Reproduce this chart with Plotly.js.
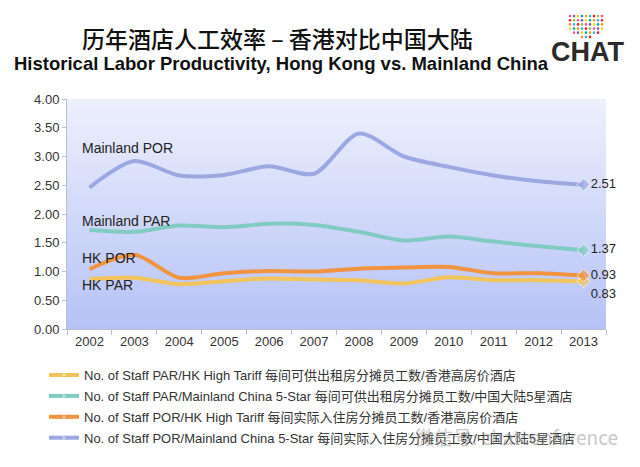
<!DOCTYPE html>
<html>
<head>
<meta charset="utf-8">
<script src="https://cdn.plot.ly/plotly-3.0.1.min.js"></script>
<style>
html,body{margin:0;padding:0;background:#fff;}
#chart{width:640px;height:467px;}
</style>
</head>
<body>
<div id="chart"></div>
<script>
var years = ['2002','2003','2004','2005','2006','2007','2008','2009','2010','2011','2012','2013'];
var hkPar = [0.87,0.89,0.78,0.83,0.88,0.86,0.85,0.79,0.90,0.85,0.85,0.83];
var mainlandPar = [1.72,1.69,1.80,1.77,1.83,1.81,1.69,1.54,1.61,1.52,1.44,1.37];
var hkPor = [1.04,1.29,0.89,0.97,1.01,1.00,1.05,1.07,1.08,0.97,0.97,0.93];
var mainlandPor = [2.46,2.92,2.67,2.68,2.83,2.70,3.40,3.00,2.82,2.67,2.57,2.51];
var yTicks = [0,0.5,1,1.5,2,2.5,3,3.5,4];

var names = [
  'No. of Staff PAR/HK High Tariff 每间可供出租房分摊员工数/香港高房价酒店',
  'No. of Staff PAR/Mainland China 5-Star 每间可供出租房分摊员工数/中国大陆5星酒店',
  'No. of Staff POR/HK High Tariff 每间实际入住房分摊员工数/香港高房价酒店',
  'No. of Staff POR/Mainland China 5-Star 每间实际入住房分摊员工数/中国大陆5星酒店'
];
var colors = ['#f3c45c','#80cbc2','#f29340','#9ba8e2'];
var series = [hkPar, mainlandPar, hkPor, mainlandPor];
var textPos = ['bottom right','middle right','middle right','middle right'];

var FONT = 'Liberation Sans, Arial, Noto Sans CJK SC, sans-serif';
var traces = series.map(function(vals, k){
  var last = vals.length - 1;
  return {
    x: years, y: vals, name: names[k], type: 'scatter',
    mode: 'lines+markers+text',
    legendgroup: 'g' + k,
    line: {color: colors[k], width: 4, shape: 'spline', smoothing: 0.8},
    marker: {symbol: 'diamond', color: colors[k], size: vals.map(function(v,i){return i===last?10:0;})},
    text: vals.map(function(v,i){return i===last ? v.toFixed(2) : '';}),
    textposition: textPos[k],
    textfont: {family: FONT, size: 13, color: '#222'},
    cliponaxis: false,
    hoverinfo: 'x+y'
  };
});

var grad = 'data:image/svg+xml;utf8,' + encodeURIComponent(
  '<svg xmlns="http://www.w3.org/2000/svg" width="100" height="100" preserveAspectRatio="none">' +
  '<defs><linearGradient id="g" x1="0" y1="0" x2="0" y2="1">' +
  '<stop offset="0" stop-color="#eef0fc"/><stop offset="1" stop-color="#b5c2f6"/></linearGradient></defs>' +
  '<rect width="100" height="100" fill="url(#g)"/></svg>');

var dotColors = ['#f15a9a','#27b6e6','#f6d21e','#8dc63f','#f7941d','#7b5ea7','#ed1c24','#00a99d'];
var dots = '';
var n = 0;
for (var r = 0; r < 6; r++) {
  for (var c = 0; c < 9; c++) {
    if (r === 5 && (c < 3 || c > 5)) continue;
    if (r === 4 && (c < 1 || c > 7)) continue;
    dots += '<circle cx="' + (4 + c*8) + '" cy="' + (4 + r*8) + '" r="2.6" fill="' + dotColors[(n*5 + r) % dotColors.length] + '"/>';
    n++;
  }
}
var logo = 'data:image/svg+xml;utf8,' + encodeURIComponent(
  '<svg xmlns="http://www.w3.org/2000/svg" width="76" height="50">' + dots + '</svg>');

var layout = {
  width: 640, height: 467,
  margin: {l: 67, r: 34, t: 99, b: 138},
  paper_bgcolor: '#ffffff',
  plot_bgcolor: 'rgba(0,0,0,0)',
  font: {family: FONT, size: 13, color: '#333'},
  showlegend: true,
  legend: {
    x: (44-67)/539, xref: 'paper', xanchor: 'left',
    y: -0.135, yanchor: 'top',
    font: {family: FONT, size: 13, color: '#333'},
    traceorder: 'grouped', tracegroupgap: 1, itemwidth: 30,
    bgcolor: 'rgba(0,0,0,0)'
  },
  xaxis: {
    type: 'category', range: [-0.5, 11.5],
    showgrid: false, zeroline: false,
    showline: true, linecolor: '#b8bdd0', linewidth: 1,
    ticks: 'outside', tickson: 'boundaries', ticklen: 5, tickcolor: '#b8bdd0',
    tickfont: {family: FONT, size: 13, color: '#333'}, fixedrange: true
  },
  yaxis: {
    range: [0, 4], tickvals: yTicks, tickformat: '.2f',
    showgrid: false, zeroline: false,
    showline: true, linecolor: '#b8bdd0', linewidth: 1,
    ticks: 'outside', ticklen: 4, tickcolor: '#b8bdd0',
    tickfont: {family: FONT, size: 13, color: '#333'}, fixedrange: true
  },
  images: [
    {source: grad, xref: 'paper', yref: 'paper', x: 0, y: 1, sizex: 1, sizey: 1,
     sizing: 'stretch', layer: 'below', xanchor: 'left', yanchor: 'top'},
    {source: logo, xref: 'paper', yref: 'paper', x: (568-67)/539, y: (467-138-14)/230,
     sizex: 38/539, sizey: 26/230, sizing: 'stretch', layer: 'above', xanchor: 'left', yanchor: 'top'}
  ],
  annotations: [
    {text: '历年酒店人工效率 – 香港对比中国大陆', xref: 'paper', yref: 'paper',
     x: (80-67)/539, y: (329-38)/230, showarrow: false, xanchor: 'left', yanchor: 'middle',
     font: {family: 'Noto Sans CJK SC, sans-serif', size: 23, weight: 500, color: '#111'}},
    {text: '<b>Historical Labor Productivity, Hong Kong vs. Mainland China</b>', xref: 'paper', yref: 'paper',
     x: (12-67)/539, y: (329-63)/230, showarrow: false, xanchor: 'left', yanchor: 'middle',
     font: {family: FONT, size: 18.5, color: '#111'}},
    {text: '<b>CHAT</b>', xref: 'paper', yref: 'paper',
     x: (587-67)/539, y: (329-52)/230, showarrow: false, xanchor: 'center', yanchor: 'middle',
     font: {family: FONT, size: 27, color: '#2b2b2b'}},
    {text: 'Mainland POR', xref: 'paper', yref: 'y', x: (80-67)/539, y: 3.15, showarrow: false,
     xanchor: 'left', yanchor: 'middle', font: {family: FONT, size: 14, color: '#222'}},
    {text: 'Mainland PAR', xref: 'paper', yref: 'y', x: (80-67)/539, y: 1.87, showarrow: false,
     xanchor: 'left', yanchor: 'middle', font: {family: FONT, size: 14, color: '#222'}},
    {text: 'HK POR', xref: 'paper', yref: 'y', x: (80-67)/539, y: 1.23, showarrow: false,
     xanchor: 'left', yanchor: 'middle', font: {family: FONT, size: 14, color: '#222'}},
    {text: 'HK PAR', xref: 'paper', yref: 'y', x: (80-67)/539, y: 0.77, showarrow: false,
     xanchor: 'left', yanchor: 'middle', font: {family: FONT, size: 14, color: '#222'}},
    {text: '微信号: chatconference', xref: 'paper', yref: 'paper',
     x: (620-67)/539, y: (329-436)/230, showarrow: false, xanchor: 'right', yanchor: 'middle',
     font: {family: 'Noto Sans CJK SC, sans-serif', size: 19, color: 'rgba(150,150,150,0.55)'}}
  ]
};

Plotly.newPlot('chart', traces, layout, {displayModeBar: false, staticPlot: true});
</script>
</body>
</html>
